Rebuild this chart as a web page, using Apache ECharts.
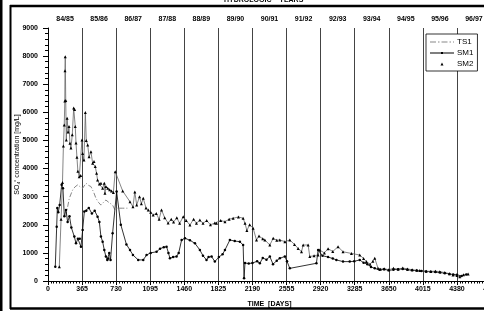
<!DOCTYPE html>
<html>
<head>
<meta charset="utf-8">
<script src="https://cdn.jsdelivr.net/npm/echarts@6/dist/echarts.min.js"></script>
<style>
html, body { margin: 0; padding: 0; background: #fff; }
#chart { width: 484px; height: 311px; }
</style>
</head>
<body>
<div id="chart"></div>
<script>
var yearLabels = ['84/85', '85/86', '86/87', '87/88', '88/89', '89/90', '90/91', '91/92', '92/93', '93/94', '94/95', '95/96', '96/97'];

var ts1Days = [190, 228, 264, 290, 318, 345, 371, 407, 435, 460, 490, 514, 540, 567, 595, 620, 650, 692, 717, 745, 800, 860];
var ts1Vals = [2290, 2940, 3240, 3350, 3420, 3350, 3300, 3480, 3400, 3360, 3150, 2940, 2800, 2700, 2800, 2880, 2800, 2700, 2530, 2590, 2590, 2590];

var sm1Days = [78, 93, 100, 110, 125, 146, 160, 175, 193, 210, 230, 250, 282, 300, 320, 340, 353, 371, 389, 410, 437, 470, 500, 531, 550, 567, 585, 603, 620, 635, 645, 656, 670, 692, 735, 780, 840, 878, 910, 966, 1020, 1056, 1100, 1163, 1200, 1240, 1270, 1290, 1306, 1340, 1377, 1400, 1431, 1467, 1520, 1574, 1627, 1660, 1698, 1720, 1752, 1787, 1830, 1870, 1895, 1948, 2000, 2055, 2090, 2100, 2110, 2150, 2190, 2240, 2269, 2300, 2340, 2376, 2410, 2450, 2483, 2537, 2560, 2590, 2875, 2893, 2940, 3000, 3050, 3089, 3160, 3232, 3280, 3339, 3380, 3420, 3460, 3500, 3550, 3600, 3650, 3700, 3750, 3800, 3850, 3900, 3950, 4000, 4050, 4100, 4150, 4200, 4250, 4300, 4340, 4380, 4430, 4480];
var sm1Vals = [510, 1930, 2600, 2450, 2700, 3420, 3300, 2300, 2530, 2100, 2300, 1900, 1580, 1340, 1500, 1500, 1220, 1810, 2470, 2500, 2600, 2400, 2500, 2290, 2100, 1580, 1400, 1100, 870, 750, 800, 1000, 750, 1700, 3180, 2000, 1300, 1100, 925, 750, 750, 925, 1000, 1040, 1150, 1200, 1220, 1000, 810, 850, 870, 1000, 1460, 1520, 1450, 1340, 1100, 900, 750, 850, 870, 690, 850, 950, 1100, 1460, 1420, 1400, 1280, 100, 640, 620, 640, 700, 630, 820, 760, 870, 600, 720, 810, 870, 700, 450, 630, 1100, 900, 850, 800, 750, 690, 690, 700, 750, 650, 600, 500, 450, 400, 420, 380, 400, 420, 430, 400, 380, 370, 360, 340, 330, 320, 300, 280, 250, 230, 220, 180, 230];

var sm2Days = [121, 140, 155, 165, 174, 180, 182, 185, 190, 196, 205, 215, 225, 235, 246, 260, 275, 285, 292, 300, 310, 320, 335, 350, 364, 371, 385, 400, 410, 425, 440, 460, 478, 493, 506, 520, 531, 550, 567, 585, 603, 610, 620, 640, 660, 680, 700, 720, 800, 878, 910, 930, 950, 980, 1000, 1020, 1050, 1074, 1100, 1127, 1160, 1190, 1216, 1250, 1287, 1320, 1345, 1380, 1410, 1449, 1480, 1520, 1560, 1590, 1627, 1660, 1700, 1740, 1787, 1805, 1850, 1895, 1940, 1983, 2040, 2090, 2110, 2130, 2160, 2197, 2233, 2260, 2300, 2323, 2376, 2412, 2450, 2483, 2537, 2590, 2640, 2679, 2715, 2733, 2786, 2804, 2850, 2893, 2911, 2960, 3000, 3050, 3107, 3160, 3250, 3339, 3380, 3410, 3450, 3480, 3500, 3535, 3560, 3600, 3650, 3700, 3750, 3800, 3850, 3900, 3950, 3982, 4050, 4100, 4150, 4196, 4250, 4300, 4338, 4380, 4410, 4450, 4500];
var sm2Vals = [510, 2200, 3500, 4800, 5550, 6400, 7480, 7980, 6420, 5020, 5790, 5300, 5500, 4900, 4730, 5200, 6150, 6100, 5500, 4910, 4400, 3900, 3710, 3750, 5020, 4540, 4300, 5990, 5000, 4840, 4420, 4600, 4190, 4250, 4070, 3830, 3590, 3450, 3480, 3300, 3480, 3120, 3360, 3300, 3250, 3200, 3150, 3890, 3200, 2820, 2640, 3170, 2700, 3000, 2750, 2940, 2600, 2530, 2450, 2350, 2400, 2200, 2530, 2250, 2060, 2200, 2100, 2250, 2050, 2290, 2150, 1990, 2200, 2050, 2170, 2050, 2150, 2000, 2060, 2050, 2150, 2110, 2200, 2230, 2280, 2230, 2050, 1800, 2000, 1880, 1460, 1600, 1500, 1460, 1280, 1520, 1450, 1460, 1400, 1460, 1300, 1160, 1040, 1280, 1280, 870, 900, 925, 1100, 1000, 1150, 1050, 1220, 1040, 980, 925, 800, 690, 600, 700, 810, 450, 420, 440, 400, 450, 420, 460, 430, 400, 380, 370, 350, 340, 350, 330, 300, 260, 210, 200, 150, 220, 250];

function pairs(days, vals) {
    return days.map(function (d, i) { return [d, vals[i]]; });
}

var txt = { fontFamily: 'Liberation Sans', fontWeight: 'bold', fontSize: 7, color: '#000' };
function plain(v) { return String(v); }

// legend icons, each with a 24x6 bounding box so they keep their size
var iconTS1 = 'path://M0,0L0,0Z M24,6L24,6Z M0,2.5h6v1h-6z M8,2.5h1.5v1h-1.5z M11.5,2.5h6v1h-6z M19.5,2.5h1.5v1h-1.5z M23,2.5h1v1h-1z';
var iconSM1 = 'path://M0,0L0,0Z M24,6L24,6Z M0,2.6h24v0.8h-24z M11,2h2v2h-2z';
var iconSM2 = 'path://M0,0L0,0Z M24,6L24,6Z M10.5,4.5L12,1.5L13.5,4.5z';

var chartDom = document.getElementById('chart');
var myChart = echarts.init(chartDom, null, { renderer: 'canvas' });
var option;

option = {
    animation: false,
    backgroundColor: '#fff',
    grid: { left: 48, top: 28, bottom: 30, width: 443, containLabel: false, outerBoundsMode: 'none' },
    legend: {
        orient: 'vertical',
        left: 426,
        top: 34,
        itemWidth: 24,
        itemHeight: 6,
        itemGap: 3,
        padding: [4, 4, 3, 4],
        borderColor: '#000',
        borderWidth: 0.8,
        backgroundColor: '#fff',
        symbolKeepAspect: true,
        textStyle: { fontFamily: 'Liberation Sans', fontSize: 8, lineHeight: 7, color: '#000', padding: [0, 0, 0, -2] },
        data: [
            { name: 'TS1', icon: iconTS1, itemStyle: { color: '#888' } },
            { name: 'SM1', icon: iconSM1, itemStyle: { color: '#000' } },
            { name: 'SM2', icon: iconSM2, itemStyle: { color: '#000' } }
        ]
    },
    graphic: [
        { type: 'rect', shape: { x: 0, y: 0, width: 2.5, height: 311 }, style: { fill: '#000' } },
        { type: 'line', shape: { x1: 10, y1: 6, x2: 484, y2: 6 }, style: { stroke: '#000', lineWidth: 2.5 } },
        { type: 'line', shape: { x1: 10.5, y1: 5, x2: 10.5, y2: 309 }, style: { stroke: '#000', lineWidth: 2 } },
        { type: 'line', shape: { x1: 10, y1: 308.5, x2: 484, y2: 308.5 }, style: { stroke: '#000', lineWidth: 2.5 } },
        { type: 'text', left: 224, top: -3, style: { text: 'HYDROLOGIC    YEARS', font: 'bold 7px "Liberation Sans"', fill: '#000' } }
    ],
    xAxis: [
        {
            type: 'value',
            min: 0,
            max: 4745,
            interval: 365,
            name: 'TIME  [DAYS]',
            nameLocation: 'middle',
            nameGap: 20,
            nameMoveOverlap: false,
            nameTextStyle: txt,
            axisLine: { lineStyle: { color: '#000', width: 1 } },
            axisTick: { length: 4, lineStyle: { color: '#000' } },
            minorTick: { show: true, splitNumber: 12, length: 2.5, lineStyle: { color: '#000' } },
            axisLabel: Object.assign({ margin: 5, formatter: plain }, txt),
            splitLine: { show: true, lineStyle: { color: '#444', width: 1 } }
        },
        {
            type: 'category',
            position: 'top',
            data: yearLabels,
            axisLine: { show: false },
            axisTick: { show: false },
            axisLabel: Object.assign({ margin: 5, interval: 0 }, txt),
            splitLine: { show: false }
        }
    ],
    yAxis: {
        type: 'value',
        min: 0,
        max: 9000,
        interval: 1000,
        name: 'SO\u2084\u207C concentration [mg/L]',
        nameLocation: 'middle',
        nameGap: 27,
        nameMoveOverlap: false,
        nameTextStyle: { fontFamily: 'Liberation Sans', fontSize: 7, color: '#000' },
        axisLine: { show: true, lineStyle: { color: '#000', width: 1 } },
        axisTick: { length: 5, lineStyle: { color: '#000' } },
        minorTick: { show: true, splitNumber: 5, length: 3, lineStyle: { color: '#000' } },
        axisLabel: Object.assign({ margin: 10, formatter: plain }, txt),
        splitLine: { show: false }
    },
    series: [
        {
            name: 'TS1',
            type: 'line',
            data: pairs(ts1Days, ts1Vals),
            showSymbol: false,
            symbol: 'none',
            color: '#888',
            lineStyle: { color: '#888', width: 1, type: [5, 2, 1, 2] },
            z: 2
        },
        {
            name: 'SM1',
            type: 'line',
            data: pairs(sm1Days, sm1Vals),
            symbol: 'circle',
            symbolSize: 2.5,
            color: '#000',
            itemStyle: { color: '#000' },
            lineStyle: { color: '#000', width: 0.8 },
            z: 3
        },
        {
            name: 'SM2',
            type: 'line',
            data: pairs(sm2Days, sm2Vals),
            symbol: 'triangle',
            symbolSize: 3,
            color: '#000',
            itemStyle: { color: '#000' },
            lineStyle: { color: '#666', width: 0.8 },
            z: 3
        }
    ]
};

option && myChart.setOption(option);
</script>
</body>
</html>
